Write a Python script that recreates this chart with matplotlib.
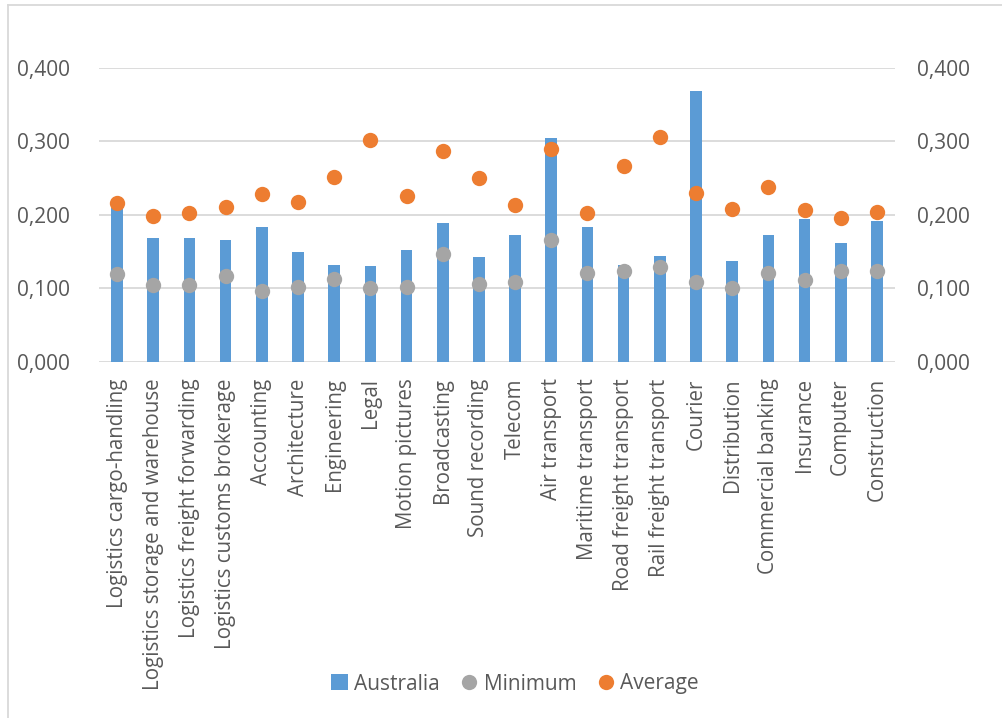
import matplotlib
matplotlib.use("Agg")
import matplotlib.pyplot as plt
from matplotlib.lines import Line2D
from matplotlib.patches import Patch
import numpy as np

categories = ["Logistics cargo-handling", "Logistics storage and warehouse",
              "Logistics freight forwarding", "Logistics customs brokerage",
              "Accounting", "Architecture", "Engineering", "Legal",
              "Motion pictures", "Broadcasting", "Sound recording", "Telecom",
              "Air transport", "Maritime transport", "Road freight transport",
              "Rail freight transport", "Courier", "Distribution",
              "Commercial banking", "Insurance", "Computer", "Construction"]
australia = [0.210, 0.168, 0.168, 0.166, 0.183, 0.150, 0.132, 0.131, 0.152,
             0.189, 0.143, 0.173, 0.305, 0.184, 0.132, 0.144, 0.369, 0.137,
             0.173, 0.195, 0.161, 0.192]
minimum = [0.119, 0.104, 0.104, 0.117, 0.096, 0.102, 0.113, 0.100, 0.102,
           0.147, 0.106, 0.108, 0.166, 0.121, 0.124, 0.129, 0.108, 0.101,
           0.121, 0.111, 0.123, 0.123]
average = [0.216, 0.199, 0.202, 0.211, 0.228, 0.218, 0.251, 0.302, 0.226,
           0.287, 0.250, 0.213, 0.290, 0.203, 0.266, 0.306, 0.230, 0.208,
           0.238, 0.206, 0.196, 0.204]
yticks = [0.0, 0.1, 0.2, 0.3, 0.4]
ytick_labels = ["0,000", "0,100", "0,200", "0,300", "0,400"]

BLUE = "#5B9BD5"
GRAY = "#A5A5A5"
ORANGE = "#ED7D31"
GRID = "#D9D9D9"
TXT = "#595959"
FONT = ["Open Sans", "DejaVu Sans"]
plt.rcParams['font.family'] = FONT

W, H = 1002, 718
fig = plt.figure(figsize=(W / 100, H / 100), dpi=100)

ax = fig.add_axes([99 / W, 1 - 361.7 / H, (895 - 99) / W, (361.7 - 68) / H])
x = np.arange(len(categories))
ax.bar(x, australia, width=0.32, color=BLUE, zorder=2)
ax.scatter(x, minimum, s=122, color=GRAY, zorder=3, linewidths=0)
ax.scatter(x, average, s=122, color=ORANGE, zorder=4, linewidths=0)

ax.set_xlim(-0.5, len(categories) - 0.5)
ax.set_ylim(0, 0.4)
ax.set_yticks(yticks)
ax.set_yticklabels(ytick_labels)
ax.set_xticks(x)
ax.set_xticklabels(categories, rotation=90, va="top", ha="center")
for s in ax.spines.values():
    s.set_visible(False)
ax.grid(axis="y", color=GRID, linewidth=1.3, zorder=0)
ax.set_axisbelow(True)
ax.tick_params(axis="y", length=0, pad=21, labelsize=15, labelcolor=TXT)
ax.tick_params(axis="x", length=0, pad=12, labelsize=14.8, labelcolor=TXT)

ax2 = ax.twinx()
ax2.set_ylim(0, 0.4)
ax2.set_yticks(yticks)
ax2.set_yticklabels(ytick_labels)
for s in ax2.spines.values():
    s.set_visible(False)
ax2.tick_params(axis="y", length=0, pad=16, labelsize=15, labelcolor=TXT)

handles = [Patch(facecolor=BLUE, edgecolor="none"),
           Line2D([], [], marker="o", linestyle="none", markersize=11,
                  markerfacecolor=GRAY, markeredgewidth=0),
           Line2D([], [], marker="o", linestyle="none", markersize=11,
                  markerfacecolor=ORANGE, markeredgewidth=0)]
fig.legend(handles, ["Australia", "Minimum", "Average"], loc="center",
           bbox_to_anchor=(515 / W, 1 - 684 / H), ncol=3, frameon=False,
           fontsize=15, labelcolor=TXT, handlelength=0.8, handleheight=0.8,
           handletextpad=0.3, columnspacing=1.0)

# chart border (top and left visible)
fig.add_artist(Line2D([8 / W, 8 / W], [0, 1 - 5 / H], transform=fig.transFigure,
                      color=GRID, linewidth=1.3))
fig.add_artist(Line2D([8 / W, 1], [1 - 5 / H, 1 - 5 / H], transform=fig.transFigure,
                      color=GRID, linewidth=1.3))

fig.savefig("out.png", dpi=100)
